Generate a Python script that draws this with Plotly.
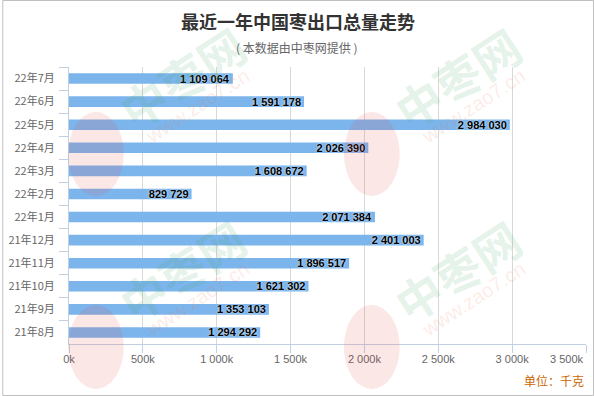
import plotly.graph_objects as go

# ---- data ----
categories = ["22年7月", "22年6月", "22年5月", "22年4月", "22年3月", "22年2月",
              "22年1月", "21年12月", "21年11月", "21年10月", "21年9月", "21年8月"]
values = [1109064, 1591178, 2984030, 2026390, 1608672, 829729,
          2071384, 2401003, 1896517, 1621302, 1353103, 1294292]
x_tick_vals = [0, 500000, 1000000, 1500000, 2000000, 2500000, 3000000, 3500000]
x_tick_text = ["0k", "500k", "1 000k", "1 500k", "2 000k", "2 500k", "3 000k", "3 500k"]
title_text = "最近一年中国枣出口总量走势"
subtitle_text = "( 本数据由中枣网提供 )"
unit_text = "单位：千克"
watermark_name = "中枣网"
watermark_url = "www.zao7.cn"

labels = [f"{v:,}".replace(",", " ") for v in values]

W, H = 594, 396
ML, MR, MT, MB = 67, 8, 67, 52
PW, PH = W - ML - MR, H - MT - MB

FONT = "Liberation Sans, Arial, Noto Sans CJK SC, sans-serif"
CJK = "Noto Sans CJK SC, Microsoft YaHei, sans-serif"


def px(xp):  # pixel x -> plot-area paper x
    return (xp - ML) / PW


def py(yp):  # pixel y (from top) -> plot-area paper y
    return (H - yp - MB) / PH


fig = go.Figure(go.Bar(
    x=values, y=categories, orientation="h",
    marker=dict(color="#7cb5ec", line=dict(width=0)),
    text=labels, textposition="inside", insidetextanchor="end",
    textangle=0, constraintext="none", cliponaxis=False,
    textfont=dict(family=FONT, size=11, color="#000000", weight="bold",
                  shadow="0px 0px 2px #ffffff"),
    hoverinfo="skip",
))

fig.update_layout(
    width=W, height=H,
    margin=dict(l=ML, r=MR, t=MT, b=MB),
    paper_bgcolor="#ffffff", plot_bgcolor="#ffffff",
    bargap=0.54, showlegend=False,
    font=dict(family=FONT, size=11, color="#666666"),
)

fig.update_xaxes(
    range=[0, 3500000], tickvals=x_tick_vals,
    ticktext=x_tick_text[:-1] + [""],
    showgrid=True, gridcolor="#d8d8d8", gridwidth=1,
    showline=True, linecolor="#c0d0e0", linewidth=1,
    ticks="outside", ticklen=8, tickcolor="#c0d0e0",
    ticklabelstandoff=-3,
    tickfont=dict(family=FONT, size=11, color="#666666"),
    zeroline=False, fixedrange=True,
)
fig.update_yaxes(
    type="category", categoryorder="array", categoryarray=categories,
    autorange="reversed",
    showline=True, linecolor="#c0d0e0", linewidth=1,
    ticks="outside", tickson="boundaries", ticklen=9, tickcolor="#c0d0e0",
    ticklabelstandoff=11,
    tickfont=dict(family=CJK, size=11, color="#666666"),
    showgrid=False, fixedrange=True,
)

ann = [
    dict(text=f"<b>{title_text}</b>", x=px(297), y=py(21), xref="paper", yref="paper",
         showarrow=False, xanchor="center", yanchor="middle",
         font=dict(family=CJK, size=18, color="#333333")),
    dict(text=subtitle_text, x=px(296), y=py(47), xref="paper", yref="paper",
         showarrow=False, xanchor="center", yanchor="middle",
         font=dict(family=CJK, size=12, color="#666666")),
    dict(text=unit_text, x=px(W - 8), y=py(380), xref="paper", yref="paper",
         showarrow=False, xanchor="right", yanchor="middle",
         font=dict(family=CJK, size=12, color="#cc6600")),
    dict(text=x_tick_text[-1], x=x_tick_vals[-1], xref="x", y=0, yref="paper",
         yshift=-15, showarrow=False, xanchor="right", yanchor="middle",
         font=dict(family=FONT, size=11, color="#666666")),
]

# faint tiled watermark (logo + site name + url)
tiles = [(0, 0), (277, 0), (0, 193), (277, 193)]
shapes = []
for dx, dy in tiles:
    ann.append(dict(text=f"<b>{watermark_name}</b>", x=px(180 + dx), y=py(77 + dy),
                    xref="paper", yref="paper", showarrow=False, textangle=-33,
                    xanchor="center", yanchor="middle",
                    font=dict(family=CJK, size=46, color="rgba(60,160,90,0.14)")))
    ann.append(dict(text=watermark_url, x=px(196 + dx), y=py(106 + dy),
                    xref="paper", yref="paper", showarrow=False, textangle=-33,
                    xanchor="center", yanchor="middle",
                    font=dict(family=FONT, size=20, color="rgba(240,110,70,0.15)")))
    shapes.append(dict(type="circle", xref="paper", yref="paper",
                       x0=px(66 + dx), x1=px(122 + dx), y0=py(196 + dy), y1=py(112 + dy),
                       fillcolor="rgba(230,70,70,0.13)", line=dict(width=0),
                       layer="above"))

# outer border
shapes.append(dict(type="rect", xref="paper", yref="paper",
                   x0=px(0.5), x1=px(W - 0.5), y0=py(H - 0.5), y1=py(0.5),
                   line=dict(color="#c0c0c0", width=1), layer="below"))

fig.update_layout(annotations=ann, shapes=shapes)

fig.write_html("out.html", config={"displayModeBar": False},
               post_script="document.body.style.margin='0';document.body.style.padding='0';")
